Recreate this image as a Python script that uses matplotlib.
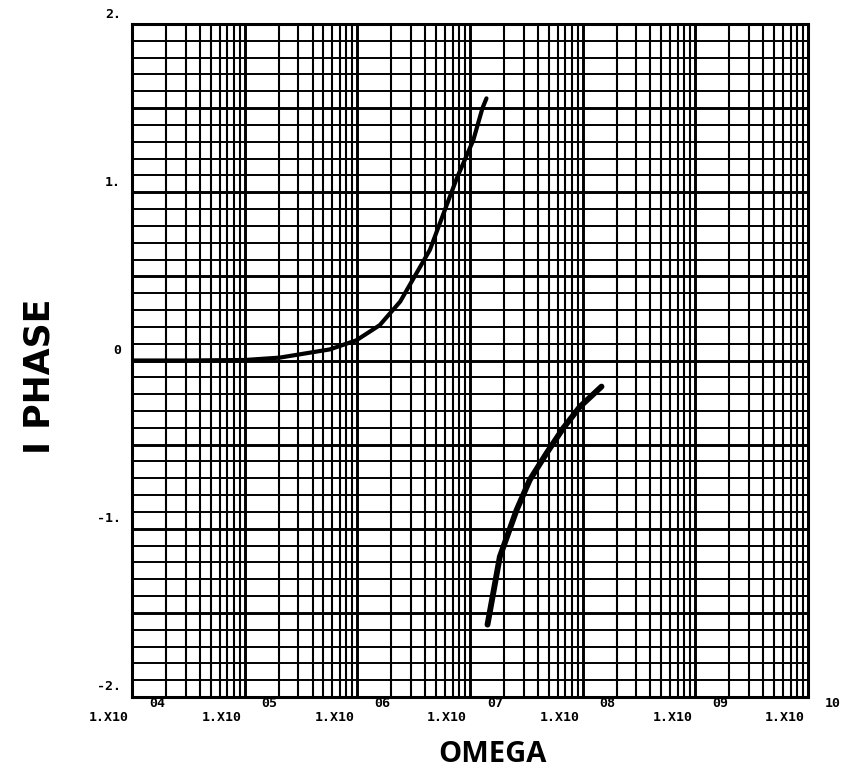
import numpy as np
import matplotlib
matplotlib.use("Agg")
import matplotlib.pyplot as plt
from matplotlib import font_manager
from matplotlib.transforms import offset_copy

# ---- data ----
upper_omega = [1.0e4, 3.0e4, 1.0e5, 2.04e5, 5.7e5, 9.8e5, 1.58e6, 2.4e6, 4.4e6, 7.6e6, 1.07e7, 1.29e7, 1.40e7]
upper_phase = [0.0, 0.0, 0.003, 0.017, 0.066, 0.12, 0.21, 0.35, 0.657, 1.08, 1.31, 1.50, 1.558]

lower_omega = [1.43e7, 1.84e7, 2.59e7, 3.39e7, 4.79e7, 6.71e7, 9.44e7, 1.47e8]
lower_phase = [-1.57, -1.166, -0.889, -0.71, -0.55, -0.403, -0.275, -0.155]

decades = [1e4, 1e5, 1e6, 1e7, 1e8, 1e9, 1e10]
decade_exps = ["04", "05", "06", "07", "08", "09", "10"]
y_ticks = [-2, -1, 0, 1, 2]
y_tick_labels = ["-2.", "-1.", "0", "1.", "2."]

x_label = "OMEGA"
y_label = "I PHASE"

# ---- fonts ----
avail = {f.name for f in font_manager.fontManager.ttflist}
narrow = "DejaVu Sans"
for cand in ["Liberation Sans Narrow", "DejaVu Sans Condensed", "Open Sans", "Roboto"]:
    if cand in avail:
        narrow = cand
        break

fig = plt.figure(figsize=(8.49, 7.82), dpi=100)
ax = fig.add_axes([0.1555, 0.1087, 0.7962, 0.8606])
ax.set_xscale("log")
ax.set_xlim(1e4, 1e10)
ax.set_ylim(-2, 2)

# grid: vertical lines at 1..9 x decade
for d in decades[:-1]:
    for m in range(1, 10):
        lw = 2.1 if m == 1 else 1.5
        ax.axvline(d * m, color="black", lw=lw, zorder=1)
# horizontal lines every 0.1
for k in range(-20, 21):
    lw = 2.1 if k % 5 == 0 else 1.4
    ax.axhline(k / 10.0, color="black", lw=lw, zorder=1)

ax.plot(upper_omega, upper_phase, color="black", lw=3.0, solid_capstyle="round",
        solid_joinstyle="round", zorder=3)
ax.plot(lower_omega, lower_phase, color="black", lw=4.2, solid_capstyle="round",
        solid_joinstyle="round", zorder=3)

for s in ax.spines.values():
    s.set_linewidth(2.2)
ax.set_xticks([])
ax.set_yticks([])
ax.minorticks_off()

# x tick labels
xt = ax.get_xaxis_transform()
for d, e in zip(decades, decade_exps):
    t1 = offset_copy(xt, fig=fig, x=-23, y=-21, units="dots")
    ax.text(d, 0, "1.X10", transform=t1, ha="center", va="center",
            family="DejaVu Sans Mono", fontweight="bold", fontsize=9.5)
    t2 = offset_copy(xt, fig=fig, x=25, y=-7, units="dots")
    ax.text(d, 0, e, transform=t2, ha="center", va="center",
            family="DejaVu Sans Mono", fontweight="bold", fontsize=9.5)

# y tick labels
yt = ax.get_yaxis_transform()
for yv, lab in zip(y_ticks, y_tick_labels):
    t = offset_copy(yt, fig=fig, x=-11, y=10, units="dots")
    ax.text(0, yv, lab, transform=t, ha="right", va="center",
            family="DejaVu Sans Mono", fontweight="bold", fontsize=9.5)

fig.text(492 / 849, 1 - 755 / 782, x_label, ha="center", va="center",
         family=narrow, fontweight="bold", fontsize=21)
fig.text(40 / 849, 1 - 376 / 782, y_label, ha="center", va="center", rotation=90,
         family="DejaVu Sans", fontweight="bold", fontsize=25)

fig.savefig("out.png", dpi=100, facecolor="white")
